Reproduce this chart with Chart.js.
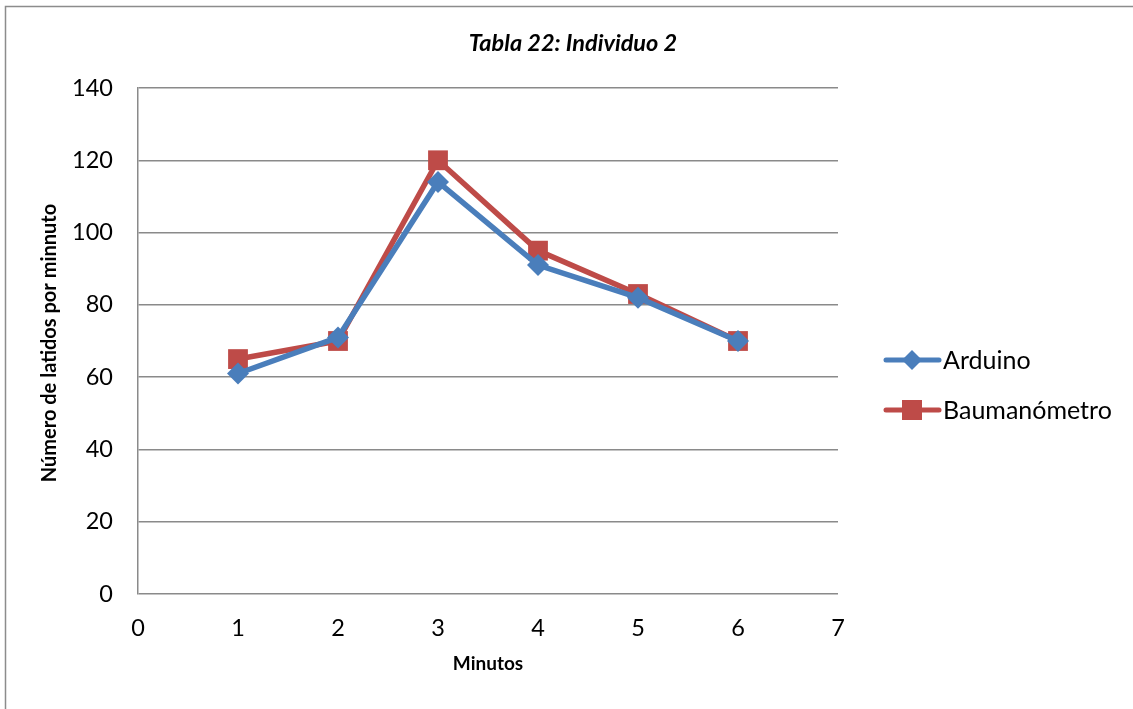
<!DOCTYPE html>
<html><head><meta charset="utf-8">
<script src="https://cdn.jsdelivr.net/npm/chart.js@4/dist/chart.umd.min.js"></script>
<style>html,body{margin:0;padding:0;background:#fff}#wrap{width:1133px;height:709px}</style>
</head><body><div id="wrap"><canvas id="c" width="1133" height="709"></canvas></div>
<script>
const minutes = [1, 2, 3, 4, 5, 6];
const arduino = [61, 71, 114, 91, 82, 70];
const baumanometro = [65, 70, 120, 95, 83, 70];
const seriesNames = ['Arduino', 'Baumanómetro'];
const chartTitle = 'Tabla 22: Individuo 2';
const xTitle = 'Minutos';
const yTitle = 'Número de latidos por minnuto';

const FONT = 'Lato, "Open Sans", "DejaVu Sans", sans-serif';
const BLUE = '#4A7EBB', RED = '#BE4B48';

const extras = {
  id: 'extras',
  beforeDraw(chart) {
    const ctx = chart.ctx;
    ctx.save();
    ctx.fillStyle = '#fff';
    ctx.fillRect(0, 0, chart.width, chart.height);
    ctx.strokeStyle = '#8c8c8c';
    ctx.lineWidth = 1.5;
    ctx.beginPath();
    ctx.moveTo(5.5, 720); ctx.lineTo(5.5, 6.5); ctx.lineTo(1140, 6.5);
    ctx.stroke();
    ctx.restore();
  },
  afterDraw(chart) {
    const ctx = chart.ctx;
    const ca = chart.chartArea;
    ctx.save();
    ctx.fillStyle = '#000';
    ctx.textAlign = 'center';
    ctx.textBaseline = 'middle';
    ctx.font = 'italic bold 23.5px ' + FONT;
    ctx.fillText(chartTitle, 573, 43);
    ctx.font = 'bold 19px ' + FONT;
    ctx.fillText(xTitle, (ca.left + ca.right) / 2, 664);
    ctx.translate(50, 343);
    ctx.rotate(-Math.PI / 2);
    ctx.font = 'bold 20px ' + FONT;
    ctx.fillText(yTitle, 0, 0);
    ctx.restore();
    // legend
    ctx.save();
    chart.data.datasets.forEach((ds, i) => {
      const y = 360 + i * 50;
      ctx.strokeStyle = ds.borderColor;
      ctx.lineWidth = 5;
      ctx.lineCap = 'round';
      ctx.beginPath(); ctx.moveTo(886, y); ctx.lineTo(939, y); ctx.stroke();
      ctx.fillStyle = ds.backgroundColor;
      if (ds.pointStyle === 'rectRot') {
        ctx.beginPath();
        ctx.moveTo(912, y - 10); ctx.lineTo(922, y); ctx.lineTo(912, y + 10); ctx.lineTo(902, y);
        ctx.closePath(); ctx.fill();
      } else {
        ctx.fillRect(902, y - 10, 20, 20);
      }
      ctx.fillStyle = '#000';
      ctx.font = '25px ' + FONT;
      ctx.textAlign = 'left';
      ctx.textBaseline = 'middle';
      ctx.fillText(ds.label, 943, y + 1);
    });
    ctx.restore();
  }
};

new Chart(document.getElementById('c'), {
  type: 'line',
  data: {
    datasets: [
      { label: seriesNames[0], data: minutes.map((m, i) => ({x: m, y: arduino[i]})),
        borderColor: BLUE, backgroundColor: BLUE, borderWidth: 5.5,
        pointStyle: 'rectRot', pointRadius: 11, pointHoverRadius: 11, pointBorderWidth: 0, tension: 0 },
      { label: seriesNames[1], data: minutes.map((m, i) => ({x: m, y: baumanometro[i]})),
        borderColor: RED, backgroundColor: RED, borderWidth: 5.5,
        pointStyle: 'rect', pointRadius: 14, pointHoverRadius: 14, pointBorderWidth: 0, tension: 0 }
    ]
  },
  options: {
    responsive: false,
    animation: false,
    layout: { padding: { left: 0, top: 88, right: 295, bottom: 65 } },
    plugins: { legend: { display: false }, title: { display: false }, tooltip: { enabled: false } },
    scales: {
      x: {
        type: 'linear', min: 0, max: 7,
        ticks: { stepSize: 1, color: '#000', font: { family: FONT, size: 23.5 }, padding: 20, maxRotation: 0 },
        grid: { display: false, drawTicks: false },
        border: { display: false },
        afterFit(s) { s.height = 50; }
      },
      y: {
        min: 0, max: 140,
        ticks: { stepSize: 20, color: '#000', font: { family: FONT, size: 23.5 }, padding: 25 },
        grid: { color: '#8a8a8a', lineWidth: 1.5, drawTicks: false },
        border: { display: true, color: '#8a8a8a', width: 1.5 },
        afterFit(s) { s.width = 138; }
      }
    }
  },
  plugins: [extras]
});
</script></body></html>
